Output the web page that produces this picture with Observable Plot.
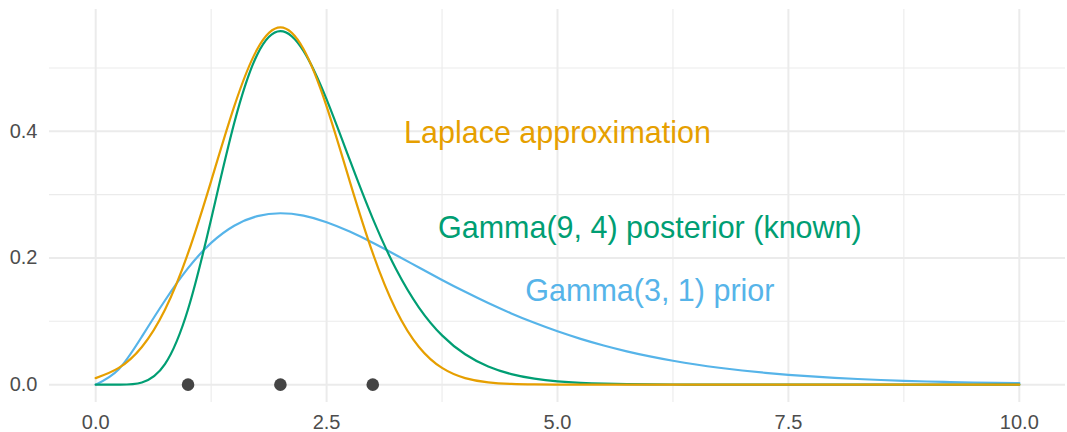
<!DOCTYPE html>
<html>
<head>
<meta charset="utf-8">
<script src="https://cdn.jsdelivr.net/npm/d3@7"></script>
<script src="https://cdn.jsdelivr.net/npm/@observablehq/plot@0.6"></script>
<style>
  html, body { margin: 0; padding: 0; background: #ffffff; }
  #chart { width: 1067px; height: 432px; }
</style>
</head>
<body>
<div id="chart"></div>
<script>
// Grid of x values shared by the three density curves
const xs = [0, 0.25, 0.5, 0.75, 1, 1.25, 1.5, 1.75, 2, 2.25, 2.5, 2.75, 3, 3.25, 3.5, 3.75,
  4, 4.25, 4.5, 4.75, 5, 5.25, 5.5, 5.75, 6, 6.25, 6.5, 6.75, 7, 7.25, 7.5, 7.75,
  8, 8.25, 8.5, 8.75, 9, 9.25, 9.5, 9.75, 10];

// Gamma(3, 1) prior density
const prior = [0, 0.02434, 0.07582, 0.13285, 0.18394, 0.22383, 0.25102, 0.26609, 0.27067,
  0.26679, 0.25652, 0.24173, 0.22404, 0.20478, 0.18496, 0.16536, 0.14653, 0.12882, 0.11248,
  0.09761, 0.08422, 0.07232, 0.06182, 0.05262, 0.04462, 0.03770, 0.03175, 0.02668, 0.02234,
  0.01866, 0.01555, 0.01294, 0.01073, 0.00888, 0.00734, 0.00605, 0.00500, 0.00411, 0.00338,
  0.00277, 0.00227];

// Gamma(9, 4) posterior density
const posterior = [0, 0.00004, 0.00344, 0.03241, 0.11908, 0.26111, 0.41303, 0.52151, 0.55834,
  0.52702, 0.45039, 0.35517, 0.26209, 0.18292, 0.12174, 0.07778, 0.04795, 0.02865, 0.01665,
  0.00944, 0.00524, 0.00285, 0.00152, 0.00080, 0.00041, 0.00021, 0.00011, 0.00005, 0.00003,
  0.00001, 0.00001, 0, 0, 0, 0, 0, 0, 0, 0, 0, 0];

// Normal (Laplace) approximation to the posterior
const laplace = [0.01033, 0.02639, 0.05947, 0.11826, 0.20756, 0.32146, 0.43939, 0.53001, 0.56419,
  0.53001, 0.43939, 0.32146, 0.20756, 0.11826, 0.05947, 0.02639, 0.01033, 0.00357, 0.00109,
  0.00029, 0.00007, 0.00001, 0, 0, 0, 0, 0, 0, 0, 0, 0, 0, 0, 0, 0, 0, 0, 0, 0, 0, 0];

// Observed data points
const observations = [1, 2, 3];

// Curve labels
const labelText = ["Laplace approximation", "Gamma(9, 4) posterior (known)", "Gamma(3, 1) prior"];
const labelX = [5, 6, 6];
const labelY = [0.4, 0.25, 0.15];

// Axis breaks
const xMajor = [0, 2.5, 5, 7.5, 10];
const xMinor = [1.25, 3.75, 6.25, 8.75];
const yMajor = [0, 0.2, 0.4];
const yMinor = [0.1, 0.3, 0.5];

const colors = {
  prior: "#56B4E9",
  posterior: "#009E73",
  laplace: "#E69F00"
};
const labelColors = [colors.laplace, colors.posterior, colors.prior];

const toRows = (ys) => xs.map((x, i) => ({x, y: ys[i]}));
const labels = labelText.map((text, i) => ({text, x: labelX[i], y: labelY[i], color: labelColors[i]}));

const chart = Plot.plot({
  width: 1067,
  height: 432,
  marginLeft: 49,
  marginRight: 2,
  marginTop: 9,
  marginBottom: 30,
  style: {
    fontFamily: "'Liberation Sans', Arial, Helvetica, sans-serif",
    background: "#ffffff",
    overflow: "visible"
  },
  x: {domain: [-0.5, 10.5]},
  y: {domain: [-0.0282, 0.5924]},
  marks: [
    // panel grid
    Plot.ruleX(xMinor, {stroke: "#EBEBEB", strokeWidth: 1.1}),
    Plot.ruleY(yMinor, {stroke: "#EBEBEB", strokeWidth: 1.1}),
    Plot.ruleX(xMajor, {stroke: "#EBEBEB", strokeWidth: 2}),
    Plot.ruleY(yMajor, {stroke: "#EBEBEB", strokeWidth: 2}),
    // axes (labels only, no tick marks)
    Plot.axisX({ticks: xMajor, tickSize: 0, tickPadding: 12, tickFormat: d3.format(".1f"),
      fontSize: 20, fill: "#4D4D4D", label: null}),
    Plot.axisY({ticks: yMajor, tickSize: 0, tickPadding: 12, tickFormat: d3.format(".1f"),
      fontSize: 20, fill: "#4D4D4D", label: null}),
    // density curves
    Plot.line(toRows(prior), {x: "x", y: "y", stroke: colors.prior, strokeWidth: 2.2, curve: "natural"}),
    Plot.line(toRows(posterior), {x: "x", y: "y", stroke: colors.posterior, strokeWidth: 2.2, curve: "natural"}),
    Plot.line(toRows(laplace), {x: "x", y: "y", stroke: colors.laplace, strokeWidth: 2.2, curve: "natural"}),
    // observations
    Plot.dot(observations, {x: d => d, y: () => 0, r: 6.3, fill: "#444444", stroke: "none"}),
    // curve labels
    Plot.text(labels, {x: "x", y: "y", text: "text", fill: "color", fontSize: 30.5, textAnchor: "middle", dy: 2})
  ]
});

document.getElementById("chart").appendChild(chart);
</script>
</body>
</html>
